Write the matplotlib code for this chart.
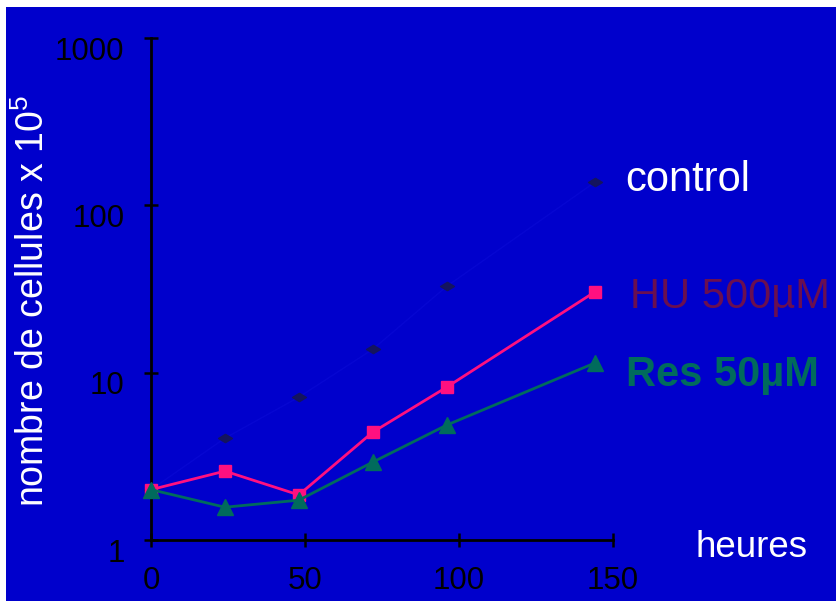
import matplotlib
matplotlib.use("Agg")
import matplotlib.pyplot as plt
import matplotlib.transforms as mtransforms
from matplotlib.path import Path
from matplotlib.patches import Rectangle

plt.rcParams['font.family'] = ['Liberation Sans', 'DejaVu Sans']
plt.rcParams['mathtext.fontset'] = 'custom'
plt.rcParams['mathtext.rm'] = 'Liberation Sans'
plt.rcParams['mathtext.default'] = 'regular'

hours = [0, 24, 48, 72, 96, 144]
control = [2.0, 4.06, 7.14, 13.8, 32.8, 137]
hu = [2.0, 2.58, 1.86, 4.41, 8.19, 30.3]
res = [2.0, 1.57, 1.73, 2.92, 4.86, 11.4]
xticks = [0, 50, 100, 150]
yticks = [1, 10, 100, 1000]
ytick_labels = ['1', '10', '100', '1000']

W, H = 836, 601
BLUE = '#0000CC'
fig = plt.figure(figsize=(W / 100, H / 100), dpi=100)
fig.patch.set_facecolor('white')
fig.patches.append(Rectangle((6 / W, 0), 1 - 6 / W, 1 - 7 / H, transform=fig.transFigure,
                             facecolor=BLUE, edgecolor='none', zorder=-10))

ax = fig.add_axes([151 / W, (H - 540) / H, (613 - 151) / W, (540 - 38) / H])
ax.set_facecolor(BLUE)
ax.patch.set_alpha(0)
ax.set_yscale('log')
ax.set_xlim(0, 150)
ax.set_ylim(1, 1000)

diamond = Path([(-1, 0), (0, 0.6), (1, 0), (0, -0.6), (-1, 0)],
               [Path.MOVETO, Path.LINETO, Path.LINETO, Path.LINETO, Path.CLOSEPOLY])

ax.plot(hours, control, color='#0606D2', lw=1, marker=diamond, markersize=10,
        markerfacecolor='#14145E', markeredgecolor='#14145E', clip_on=False, zorder=3)
ax.plot(hours, hu, color='#FF1080', lw=2, marker='s', markersize=9,
        markerfacecolor='#FF1080', markeredgecolor='#FF1080', clip_on=False, zorder=4)
ax.plot(hours, res, color='#006B5C', lw=2, marker='^', markersize=12,
        markerfacecolor='#006B5C', markeredgecolor='#006B5C', clip_on=False, zorder=5)

for s in ['top', 'right']:
    ax.spines[s].set_visible(False)
for s in ['left', 'bottom']:
    ax.spines[s].set_color('black')
    ax.spines[s].set_linewidth(2)

ax.set_xticks(xticks)
ax.set_xticklabels([str(v) for v in xticks])
ax.set_yticks(yticks)
ax.set_yticklabels(ytick_labels)
ax.minorticks_off()
ax.tick_params(axis='both', direction='inout', length=10, width=1.8, color='black',
               labelsize=22.5, labelcolor='black')
ax.tick_params(axis='y', pad=14)
ax.tick_params(axis='x', pad=14)

offset = mtransforms.ScaledTranslation(0, -10 / 100, fig.dpi_scale_trans)
for lab in ax.get_yticklabels():
    lab.set_transform(lab.get_transform() + offset)

def fx(px):
    return px / W

def fy(py):
    return 1 - py / H

fig.text(fx(625), fy(191), 'control', color='white', fontsize=30, va='baseline', ha='left')
fig.text(fx(630), fy(308), 'HU 500µM', color='#6A0F50', fontsize=30, va='baseline', ha='left')
fig.text(fx(626), fy(386), 'Res 50µM', color='#006B5C', fontsize=30, fontweight='bold',
         va='baseline', ha='left')
fig.text(fx(696), fy(557), 'heures', color='white', fontsize=26.5, va='baseline', ha='left')
fig.text(fx(33), fy(301), 'nombre de cellules x 10$^5$', color='white', fontsize=27,
         rotation=90, va='center', ha='center')

fig.savefig('out.png', dpi=100, facecolor=fig.get_facecolor())
